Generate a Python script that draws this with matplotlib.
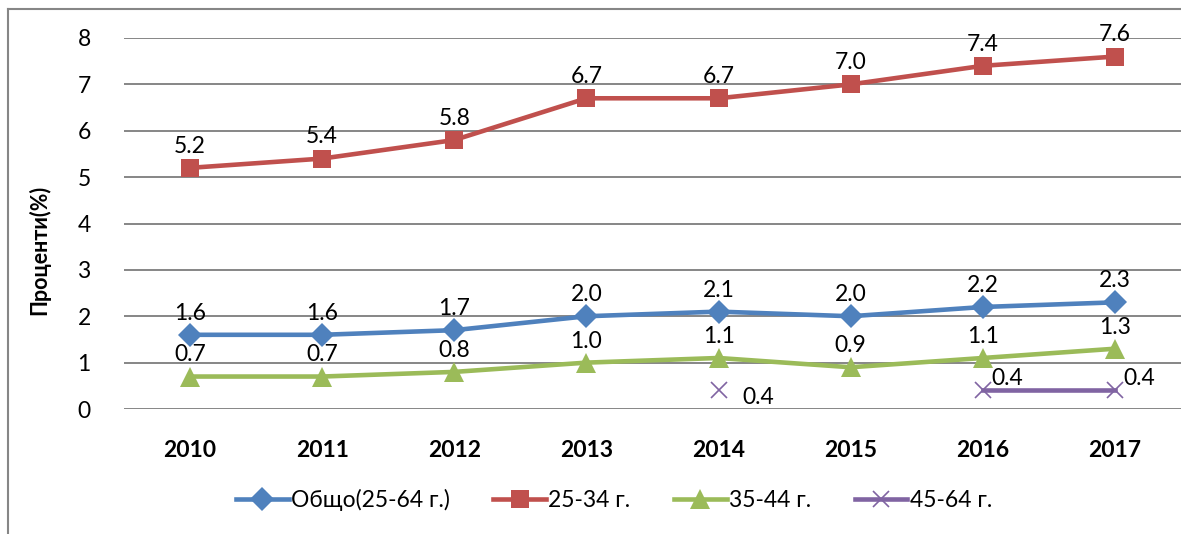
import numpy as np
import matplotlib.pyplot as plt
from matplotlib.lines import Line2D

years = ['2010', '2011', '2012', '2013', '2014', '2015', '2016', '2017']
total = [1.6, 1.6, 1.7, 2.0, 2.1, 2.0, 2.2, 2.3]
age_25_34 = [5.2, 5.4, 5.8, 6.7, 6.7, 7.0, 7.4, 7.6]
age_35_44 = [0.7, 0.7, 0.8, 1.0, 1.1, 0.9, 1.1, 1.3]
age_45_64 = [np.nan, np.nan, np.nan, np.nan, 0.4, np.nan, 0.4, 0.4]
labels = ['Общо(25-64 г.)', '25-34 г.', '35-44 г.', '45-64 г.']

plt.rcParams['font.family'] = ['Lato', 'DejaVu Sans']

W, H = 1181, 534
fig = plt.figure(figsize=(W / 100, H / 100), dpi=100)
ax = fig.add_axes([124 / W, 1 - 409 / H, 1 - 124 / W, (409 - 38) / H])

x = np.arange(len(years))
series = [
    (total, '#4F81BD', 'D', 12),
    (age_25_34, '#C0504D', 's', 13),
    (age_35_44, '#9BBB59', '^', 14),
    (age_45_64, '#8064A2', 'x', 12),
]
for (vals, col, mk, ms), lab in zip(series, labels):
    ax.plot(x, vals, color=col, lw=3.3, marker=mk, ms=ms,
            markeredgewidth=1.2 if mk == 'x' else 0, label=lab, zorder=3)

# data labels
for vals in (total, age_25_34, age_35_44):
    for xi, v in zip(x, vals):
        ax.annotate('%.1f' % v, (xi, v), xytext=(0, 8), textcoords='offset points',
                    ha='center', va='bottom', fontsize=16.5, zorder=4)
purple_offsets = {4: (17, -5), 6: (6, 1), 7: (6, 1)}
for xi, v in zip(x, age_45_64):
    if np.isnan(v):
        continue
    dx, dy = purple_offsets[xi]
    ax.annotate('%.1f' % v, (xi, v), xytext=(dx, dy), textcoords='offset points',
                ha='left', va='bottom' if dy > 0 else 'center', fontsize=16.5, zorder=4)

ax.set_xlim(-0.5, 7.5)
ax.set_ylim(0, 8)
ax.set_yticks(range(9))
ax.set_xticks(x)
ax.set_xticklabels(years, fontweight='bold', fontsize=15.5)
ax.tick_params(axis='both', length=0, labelsize=16.5)
ax.tick_params(axis='x', pad=22)
ax.tick_params(axis='y', pad=24)
ax.grid(axis='y', color='#868686', lw=1.4)
ax.set_axisbelow(True)
for s in ax.spines.values():
    s.set_visible(False)
ax.set_ylabel('Проценти(%)', fontweight='bold', fontsize=15.5)
ax.yaxis.set_label_coords(-74 / (W - 124), 0.43)

handles = [Line2D([], [], color=c, lw=3.3, marker=m, ms=ms,
                  markeredgewidth=1.2 if m == 'x' else 0)
           for _, c, m, ms in series]
fig.legend(handles, labels, loc='center', bbox_to_anchor=(614 / W, 1 - 500 / H),
           ncol=4, frameon=False, fontsize=16.5, handlelength=2.3, handletextpad=0.1,
           columnspacing=1.9)

# chart border (partly cut off in the reference)
fig.add_artist(Line2D([8 / W, 8 / W], [0, 1 - 9 / H], color='#868686', lw=1.5))
fig.add_artist(Line2D([8 / W, 1], [1 - 9 / H, 1 - 9 / H], color='#868686', lw=1.5))

fig.savefig('out.png', dpi=100)
